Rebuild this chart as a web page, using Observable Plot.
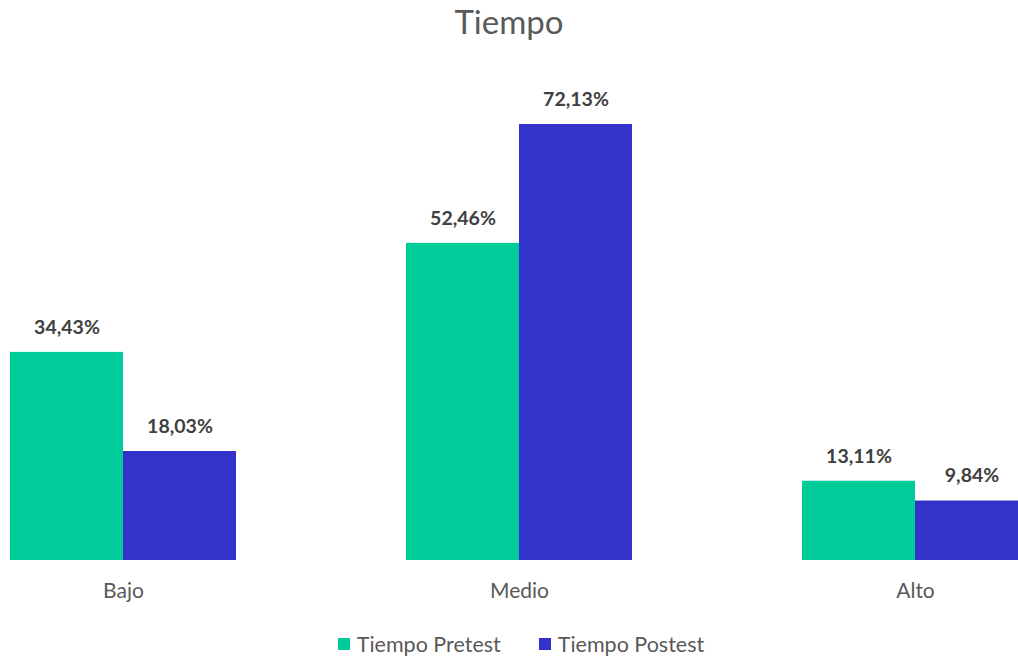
<!DOCTYPE html>
<html>
<head>
<meta charset="utf-8">
<script src="https://cdn.jsdelivr.net/npm/d3@7"></script>
<script src="https://cdn.jsdelivr.net/npm/@observablehq/plot@0.6"></script>
<style>
  html, body { margin: 0; padding: 0; background: #fff; }
  body { width: 1018px; height: 658px; overflow: hidden; font-family: Lato, sans-serif; }
  #title { height: 50px; line-height: 42px; text-align: center; font-size: 33px; color: #595959; }
  #legend { display: flex; justify-content: center; align-items: center; gap: 38px; margin-top: 21px; padding-left: 24px; font-size: 21.5px; color: #595959; }
  #legend .item { display: flex; align-items: center; gap: 7px; }
  #legend .sw { width: 12px; height: 12px; display: inline-block; }
  svg { display: block; }
</style>
</head>
<body>
<div id="title">Tiempo</div>
<div id="chart"></div>
<div id="legend"></div>
<script>
const categories = ["Bajo", "Medio", "Alto"];
const seriesNames = ["Tiempo Pretest", "Tiempo Postest"];
const pretest = [34.43, 52.46, 13.11];
const postest = [18.03, 72.13, 9.84];
const colors = ["#00CC99", "#3333CC"];

const data = [];
categories.forEach((c, i) => {
  data.push({cat: c, series: seriesNames[0], value: pretest[i]});
  data.push({cat: c, series: seriesNames[1], value: postest[i]});
});
const fmt = v => v.toFixed(2).replace(".", ",") + "%";

const chart = Plot.plot({
  width: 1018,
  height: 560,
  marginTop: 26.4,
  marginBottom: 50,
  marginLeft: -75,
  marginRight: -95,
  style: {fontFamily: "Lato, sans-serif", background: "transparent"},
  fx: {domain: categories, paddingInner: 0.4293, paddingOuter: 0.2146, label: null},
  x: {domain: seriesNames, padding: 0, axis: null},
  y: {domain: [0, 80], axis: null},
  color: {domain: seriesNames, range: colors},
  marks: [
    Plot.barY(data, {fx: "cat", x: "series", y: "value", fill: "series"}),
    Plot.text(data, {fx: "cat", x: "series", y: "value", text: d => fmt(d.value), dy: -25, lineAnchor: "middle", fontSize: 19.5, fontWeight: "bold", fill: "#404040"}),
    Plot.axisFx({anchor: "bottom", tickSize: 0, tickPadding: 23, fontSize: 21, color: "#595959", label: null})
  ]
});
document.getElementById("chart").appendChild(chart);

const legend = document.getElementById("legend");
seriesNames.forEach((s, i) => {
  const item = document.createElement("div");
  item.className = "item";
  const sw = document.createElement("span");
  sw.className = "sw";
  sw.style.background = colors[i];
  const t = document.createElement("span");
  t.textContent = s;
  item.appendChild(sw);
  item.appendChild(t);
  legend.appendChild(item);
});
</script>
</body>
</html>
